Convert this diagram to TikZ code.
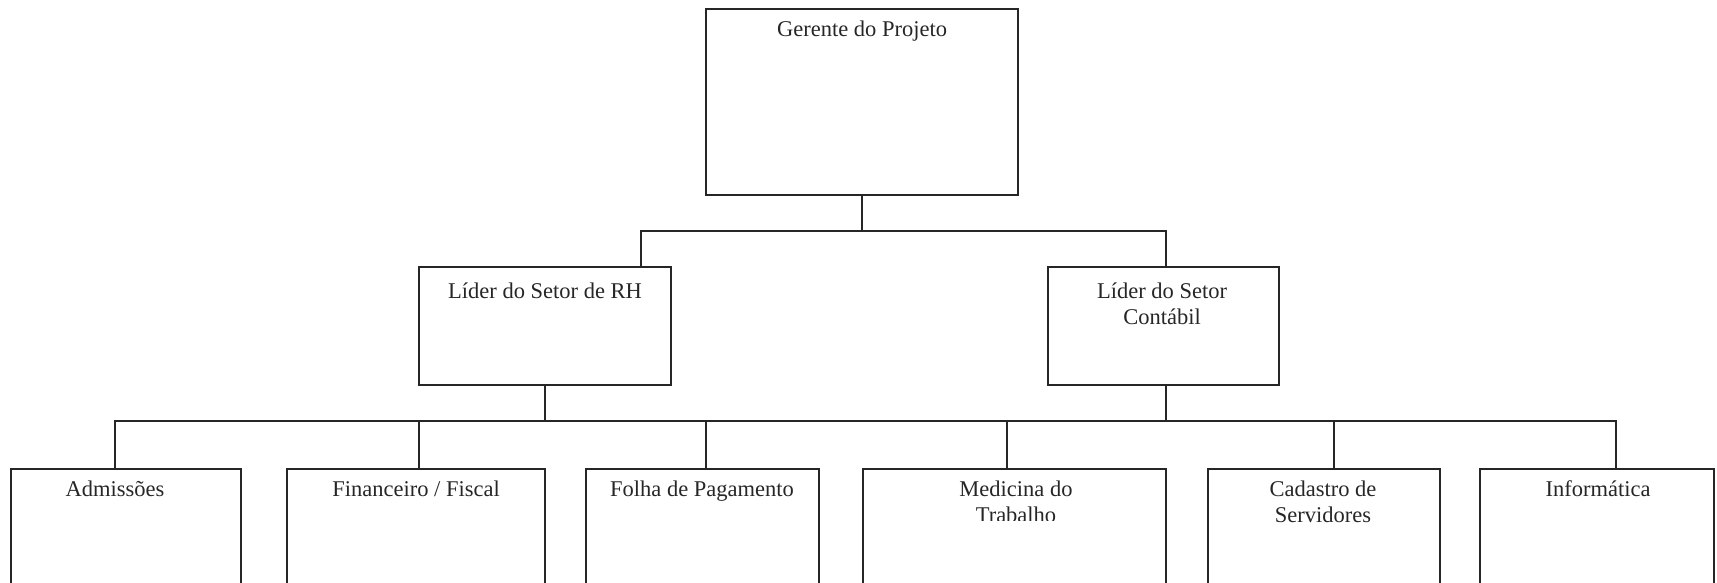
\documentclass[tikz,border=0pt]{standalone}
\usepackage{fontspec}
\setmainfont{Liberation Serif}
\usetikzlibrary{fit,calc}
\begin{document}
\begin{tikzpicture}[x=0.5pt,y=-0.5pt,
  box/.style={draw=black!85, line width=1pt, inner sep=0pt},
  lbl/.style={anchor=base, inner sep=0pt, font=\fontsize{11.25}{13}\selectfont, align=center, text=black!85},
  wire/.style={draw=black!85, line width=1pt, line cap=rect}]
\clip (0,0) rectangle (1717,583);
% boxes
\node[box, fit={(706,9)(1018,195)}] (ger) {};
\node[box, fit={(419,267)(671,385)}] (rh) {};
\node[box, fit={(1048,267)(1279,385)}] (ctb) {};
\node[box, fit={(11,469)(241,620)}] (adm) {};
\node[box, fit={(287,469)(545,620)}] (fin) {};
\node[box, fit={(586,469)(819,620)}] (fol) {};
\node[box, fit={(863,469)(1166,620)}] (med) {};
\node[box, fit={(1208,469)(1440,620)}] (cad) {};
\node[box, fit={(1480,469)(1714,620)}] (inf) {};
% labels (base anchor = baseline of last line)
\node[lbl] (tger) at (862,37) {Gerente do Projeto};
\node[lbl] (trh) at (545,298) {Líder do Setor de RH};
\node[lbl] (tctb) at (1162,324) {Líder do Setor\\Contábil};
\node[lbl] (tadm) at (115,496) {Admissões};
\node[lbl] (tfin) at (416,496) {Financeiro / Fiscal};
\node[lbl] (tfol) at (702,496) {Folha de Pagamento};
\begin{scope}
\clip (863,469) rectangle (1166,520);
\node[lbl] (tmed) at (1016,522) {Medicina do\\Trabalho};
\end{scope}
\node[lbl] (tcad) at (1323,522) {Cadastro de\\Servidores};
\node[lbl] (tinf) at (1598,496) {Informática};
% connectors level 1
\coordinate (j1) at (641,231);
\coordinate (j2) at (1166,231);
\draw[wire] (ger.south) -- (ger.south |- j1);
\draw[wire] (rh.north -| j1) -- (j1) -- (j2) -- (ctb.north -| j2);
% connectors level 2
\coordinate (k0) at (115,421);
\coordinate (k6) at (1616,421);
\draw[wire] (k0) -- (k6);
\draw[wire] (rh.south) -- (rh.south |- k0);
\draw[wire] (ctb.south -| j2) -- (k0 -| j2);
\coordinate (d1) at (115,421);
\coordinate (d2) at (419,421);
\coordinate (d3) at (706,421);
\coordinate (d4) at (1007,421);
\coordinate (d5) at (1334,421);
\coordinate (d6) at (1616,421);
\draw[wire] (d1) -- (d1 |- adm.north);
\draw[wire] (d2) -- (d2 |- fin.north);
\draw[wire] (d3) -- (d3 |- fol.north);
\draw[wire] (d4) -- (d4 |- med.north);
\draw[wire] (d5) -- (d5 |- cad.north);
\draw[wire] (d6) -- (d6 |- inf.north);
\end{tikzpicture}
\end{document}
